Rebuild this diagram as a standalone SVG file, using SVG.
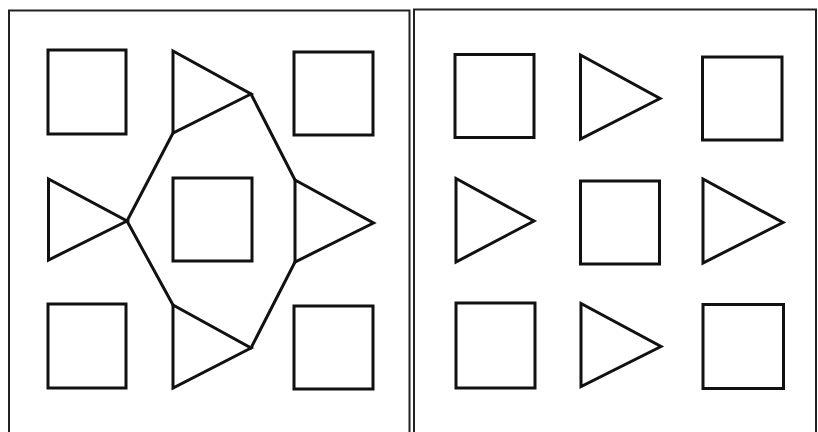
<svg xmlns="http://www.w3.org/2000/svg" width="818" height="432" viewBox="0 0 818 432">
<style>
.frame{fill:none;stroke:#222;stroke-width:2}
.s{fill:#fff;stroke:#111;stroke-width:3;stroke-linejoin:miter}
.c{fill:none;stroke:#111;stroke-width:3;stroke-linecap:round}
</style>
<rect width="818" height="432" fill="#fff"/>
<g id="panel-left">
<path class="frame" d="M9 436 V10.5 H409.5 V436"/>
</g>
<g id="panel-right">
<path class="frame" d="M414 436 V9.5 H816 V436"/>
</g>
<g id="L-sq-tl"><rect class="s" x="48" y="50" width="78" height="84"/></g>
<g id="L-tri-top"><polygon class="s" points="173,51 173,133 251,94"/></g>
<g id="L-sq-tr"><rect class="s" x="294" y="52" width="79" height="83"/></g>
<g id="L-tri-left"><polygon class="s" points="48.5,179 48.5,260 127,221"/></g>
<g id="L-sq-c"><rect class="s" x="173" y="178" width="79" height="83"/></g>
<g id="L-tri-right"><polygon class="s" points="295,180 295,262 373.5,223"/></g>
<g id="L-sq-bl"><rect class="s" x="48" y="304" width="78" height="84"/></g>
<g id="L-tri-bottom"><polygon class="s" points="173,305 173,388 251,348"/></g>
<g id="L-sq-br"><rect class="s" x="294" y="306" width="79" height="83"/></g>
<g id="connectors">
<line class="c" x1="173" y1="133" x2="127" y2="221"/>
<line class="c" x1="127" y1="221" x2="173" y2="305"/>
<line class="c" x1="251" y1="94" x2="295" y2="180"/>
<line class="c" x1="295" y1="262" x2="251" y2="348"/>
</g>
<g id="R-sq-tl"><rect class="s" x="455" y="54.5" width="79" height="83"/></g>
<g id="R-tri-top"><polygon class="s" points="580.5,55 580.5,139 660,98.5"/></g>
<g id="R-sq-tr"><rect class="s" x="702.5" y="57" width="79.5" height="83"/></g>
<g id="R-tri-left"><polygon class="s" points="456,178.5 456,262 534,221"/></g>
<g id="R-sq-c"><rect class="s" x="580.5" y="181" width="79" height="83"/></g>
<g id="R-tri-right"><polygon class="s" points="703,179 703,263 783,222.5"/></g>
<g id="R-sq-bl"><rect class="s" x="456" y="303" width="79" height="85"/></g>
<g id="R-tri-bottom"><polygon class="s" points="581,303.5 581,386.5 661,346.5"/></g>
<g id="R-sq-br"><rect class="s" x="703" y="304.5" width="80.5" height="84"/></g>
</svg>
